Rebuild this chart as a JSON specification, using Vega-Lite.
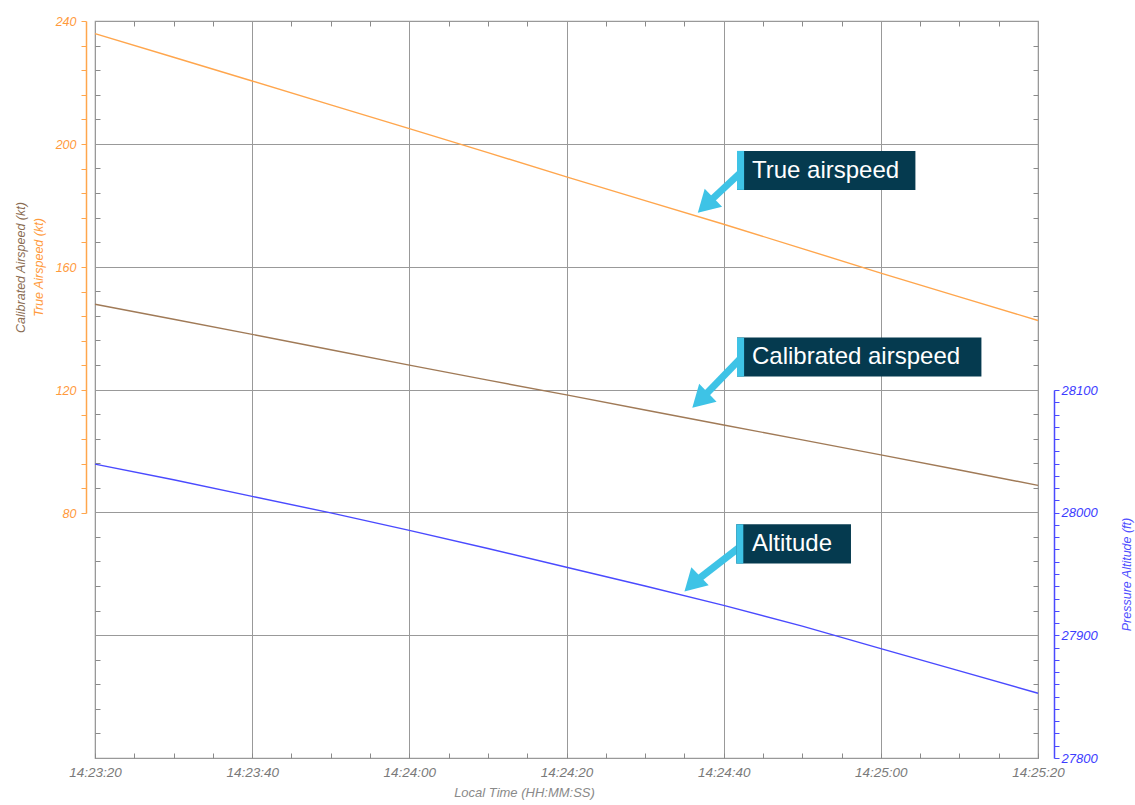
{
  "$schema": "https://vega.github.io/schema/vega-lite/v6.json",
  "width": 943,
  "height": 737,
  "autosize": {"type": "none"},
  "padding": {"left": 95, "top": 21, "right": 97, "bottom": 47},
  "background": "white",
  "config": {
    "view": {"stroke": "#9a9a9a", "strokeWidth": 1.2},
    "font": "Liberation Sans",
    "axis": {
      "labelFont": "Liberation Sans",
      "titleFont": "Liberation Sans",
      "labelFontStyle": "italic",
      "titleFontStyle": "italic",
      "titleFontWeight": "normal",
      "labelOverlap": false,
      "labelFlush": false
    }
  },
  "datasets": {
    "flight": [
      {"sec": 0, "tas": 235.9, "cas": 147.9, "alt": 28039.6},
      {"sec": 10, "tas": 228.2, "cas": 143.0, "alt": 28026.8},
      {"sec": 20, "tas": 220.5, "cas": 138.1, "alt": 28013.3},
      {"sec": 30, "tas": 212.7, "cas": 133.1, "alt": 27999.8},
      {"sec": 40, "tas": 205.0, "cas": 128.1, "alt": 27985.6},
      {"sec": 50, "tas": 197.2, "cas": 123.2, "alt": 27970.8},
      {"sec": 60, "tas": 189.3, "cas": 118.4, "alt": 27955.5},
      {"sec": 70, "tas": 181.6, "cas": 113.5, "alt": 27940.2},
      {"sec": 80, "tas": 173.9, "cas": 108.6, "alt": 27924.4},
      {"sec": 90, "tas": 166.0, "cas": 103.8, "alt": 27907.5},
      {"sec": 100, "tas": 158.0, "cas": 98.9, "alt": 27889.2},
      {"sec": 110, "tas": 150.3, "cas": 94.0, "alt": 27871.0},
      {"sec": 120, "tas": 142.6, "cas": 89.0, "alt": 27852.8}
    ],
    "notes": [
      {"label": "True airspeed", "box_start": 81.7, "box_end": 104.4, "stripe_end": 82.6, "top": 197.7, "bottom": 185.0, "text_sec": 83.6, "text_kt": 191.2, "tail_sec": 82.3, "tail_kt": 191.0, "head_sec": 77.7, "head_kt": 180.0},
      {"label": "Calibrated airspeed", "box_start": 81.7, "box_end": 112.8, "stripe_end": 82.6, "top": 136.9, "bottom": 124.2, "text_sec": 83.6, "text_kt": 130.5, "tail_sec": 82.3, "tail_kt": 130.5, "head_sec": 77.0, "head_kt": 116.5},
      {"label": "Altitude", "box_start": 81.6, "box_end": 96.2, "stripe_end": 82.5, "top": 76.1, "bottom": 63.3, "text_sec": 83.6, "text_kt": 69.6, "tail_sec": 82.2, "tail_kt": 69.0, "head_sec": 76.0, "head_kt": 56.7}
    ]
  },
  "resolve": {"scale": {"x": "independent", "y": "independent"}},
  "layer": [
    {
      "data": {"name": "flight"},
      "mark": {"type": "line", "opacity": 0},
      "encoding": {
        "x": {"field": "sec", "type": "quantitative",
          "scale": {"domain": [0, 120], "nice": false, "zero": false},
          "axis": {"orient": "bottom", "grid": true, "gridColor": "#999999", "gridWidth": 1, "values": [0, 20, 40, 60, 80, 100, 120], "domain": false, "ticks": false, "labels": false, "title": null}},
        "y": {"field": "tas", "type": "quantitative",
          "scale": {"domain": [0, 240], "nice": false, "zero": false},
          "axis": {"orient": "left", "grid": true, "gridColor": "#999999", "gridWidth": 1, "values": [0, 40, 80, 120, 160, 200, 240], "domain": false, "ticks": false, "labels": false, "title": null}}
      }
    },
    {
      "data": {"name": "flight"},
      "mark": {"type": "line", "opacity": 0},
      "encoding": {
        "x": {"field": "sec", "type": "quantitative",
          "scale": {"domain": [0, 120], "nice": false, "zero": false},
          "axis": {"orient": "top", "grid": false, "values": [5, 10, 15, 25, 30, 35, 45, 50, 55, 65, 70, 75, 85, 90, 95, 105, 110, 115], "tickSize": -5, "tickColor": "#8a8a8a", "domain": false, "labels": false, "title": null}},
        "y": {"field": "tas", "type": "quantitative",
          "scale": {"domain": [0, 240], "nice": false, "zero": false},
          "axis": {"orient": "left", "grid": false, "values": [8, 16, 24, 32, 48, 56, 64, 72, 88, 96, 104, 112, 128, 136, 144, 152, 168, 176, 184, 192, 208, 216, 224, 232], "tickSize": -5, "tickColor": "#8a8a8a", "domain": false, "labels": false, "title": null}}
      }
    },
    {
      "data": {"name": "flight"},
      "mark": {"type": "line", "opacity": 0},
      "encoding": {
        "x": {"field": "sec", "type": "quantitative",
          "scale": {"domain": [0, 120], "nice": false, "zero": false},
          "axis": {"orient": "bottom", "grid": false, "values": [0, 5, 10, 15, 20, 25, 30, 35, 40, 45, 50, 55, 60, 65, 70, 75, 80, 85, 90, 95, 100, 105, 110, 115, 120], "tickSize": -5, "tickColor": "#8a8a8a", "domain": false,
            "labelExpr": "datum.value % 20 == 0 ? '14:' + floor((1400 + datum.value) / 60) + ':' + ((1400 + datum.value) % 60 < 10 ? '0' : '') + ((1400 + datum.value) % 60) : ''",
            "labelColor": "#7a7a7a", "labelFontSize": 13.5, "labelPadding": 12,
            "title": "Local Time (HH:MM:SS)", "titleColor": "#8a8a8a", "titleFontSize": 13, "titleX": 429, "titleY": 34, "titleBaseline": "middle"}},
        "y": {"field": "tas", "type": "quantitative",
          "scale": {"domain": [0, 240], "nice": false, "zero": false},
          "axis": {"orient": "right", "grid": false, "values": [8, 16, 24, 32, 48, 56, 64, 72, 88, 96, 104, 112, 128, 136, 144, 152, 168, 176, 184, 192, 208, 216, 224, 232], "tickSize": -5, "tickColor": "#8a8a8a", "domain": false, "labels": false, "title": null}}
      }
    },
    {
      "data": {"name": "flight"},
      "transform": [{"fold": ["tas", "cas"], "as": ["series", "kt"]}],
      "mark": {"type": "line", "strokeWidth": 1.4},
      "encoding": {
        "x": {"field": "sec", "type": "quantitative",
          "scale": {"domain": [0, 120], "nice": false, "zero": false},
          "axis": null},
        "y": {"field": "kt", "type": "quantitative",
          "scale": {"domain": [80, 240], "range": [492, 0], "nice": false, "zero": false},
          "axis": {"orient": "left", "offset": 9, "grid": false,
            "values": [80, 88, 96, 104, 112, 120, 128, 136, 144, 152, 160, 168, 176, 184, 192, 200, 208, 216, 224, 232, 240],
            "labelExpr": "datum.value % 40 == 0 ? datum.label : ''",
            "tickSize": 5, "tickColor": "#ffa64d", "domainColor": "#ffa64d", "domainWidth": 1.5,
            "labelColor": "#ff9a3c", "labelFontSize": 12.5, "labelPadding": 5,
            "title": "True Airspeed (kt)", "titleColor": "#ff9a3c", "titleFontSize": 12.5, "titleX": -48, "titleBaseline": "middle"}},
        "color": {"field": "series", "type": "nominal", "scale": {"domain": ["tas", "cas"], "range": ["#ffa64d", "#a07a57"]}, "legend": null}
      }
    },
    {
      "data": {"name": "flight"},
      "mark": {"type": "line", "opacity": 0},
      "encoding": {
        "x": {"field": "sec", "type": "quantitative",
          "scale": {"domain": [0, 120], "nice": false, "zero": false},
          "axis": null},
        "y": {"field": "cas", "type": "quantitative",
          "scale": {"domain": [80, 240], "range": [492, 0], "nice": false, "zero": false},
          "axis": {"orient": "left", "offset": 9, "grid": false, "domain": false, "ticks": false, "labels": false,
            "title": "Calibrated Airspeed (kt)", "titleColor": "#8a6c52", "titleFontSize": 12.5, "titleX": -66, "titleBaseline": "middle"}}
      }
    },
    {
      "data": {"name": "flight"},
      "mark": {"type": "line", "strokeWidth": 1.4, "color": "#4a4aff"},
      "encoding": {
        "x": {"field": "sec", "type": "quantitative",
          "scale": {"domain": [0, 120], "nice": false, "zero": false},
          "axis": null},
        "y": {"field": "alt", "type": "quantitative",
          "scale": {"domain": [27800, 28100], "range": [737, 369], "nice": false, "zero": false},
          "axis": {"orient": "right", "offset": 16, "grid": false,
            "values": [27800, 27810, 27820, 27830, 27840, 27850, 27860, 27870, 27880, 27890, 27900, 27910, 27920, 27930, 27940, 27950, 27960, 27970, 27980, 27990, 28000, 28010, 28020, 28030, 28040, 28050, 28060, 28070, 28080, 28090, 28100],
            "labelExpr": "datum.value % 100 == 0 ? format(datum.value, 'd') : ''",
            "tickSize": 5, "tickColor": "#4a4aff", "domainColor": "#4a4aff", "domainWidth": 1.5,
            "labelColor": "#3c3cff", "labelFontSize": 13, "labelPadding": 2,
            "title": "Pressure Altitude (ft)", "titleColor": "#5050ff", "titleFontSize": 12.5, "titleAngle": 270, "titleX": 72, "titleBaseline": "middle"}}
      }
    },
    {
      "data": {"name": "notes"},
      "layer": [
        {
          "mark": {"type": "rule", "color": "#3ec3e6", "strokeWidth": 7},
          "encoding": {
            "x": {"field": "tail_sec", "type": "quantitative", "scale": {"domain": [0, 120], "nice": false, "zero": false}, "axis": null},
            "x2": {"field": "head_sec"},
            "y": {"field": "tail_kt", "type": "quantitative", "scale": {"domain": [0, 240], "nice": false, "zero": false}, "axis": null},
            "y2": {"field": "head_kt"}
          }
        },
        {
          "mark": {"type": "point", "shape": "triangle-up", "filled": true, "opacity": 1, "color": "#3ec3e6", "size": 625, "angle": 226},
          "encoding": {
            "x": {"field": "head_sec", "type": "quantitative", "axis": null},
            "y": {"field": "head_kt", "type": "quantitative", "axis": null}
          }
        },
        {
          "mark": {"type": "rect", "color": "#053a4f"},
          "encoding": {
            "x": {"field": "box_start", "type": "quantitative", "axis": null},
            "x2": {"field": "box_end"},
            "y": {"field": "top", "type": "quantitative", "axis": null},
            "y2": {"field": "bottom"}
          }
        },
        {
          "mark": {"type": "rect", "color": "#3ec3e6"},
          "encoding": {
            "x": {"field": "box_start", "type": "quantitative", "axis": null},
            "x2": {"field": "stripe_end"},
            "y": {"field": "top", "type": "quantitative", "axis": null},
            "y2": {"field": "bottom"}
          }
        },
        {
          "mark": {"type": "text", "color": "white", "fontSize": 24, "font": "Liberation Sans", "align": "left", "baseline": "middle"},
          "encoding": {
            "x": {"field": "text_sec", "type": "quantitative", "axis": null},
            "y": {"field": "text_kt", "type": "quantitative", "axis": null},
            "text": {"field": "label"}
          }
        }
      ]
    }
  ]
}
